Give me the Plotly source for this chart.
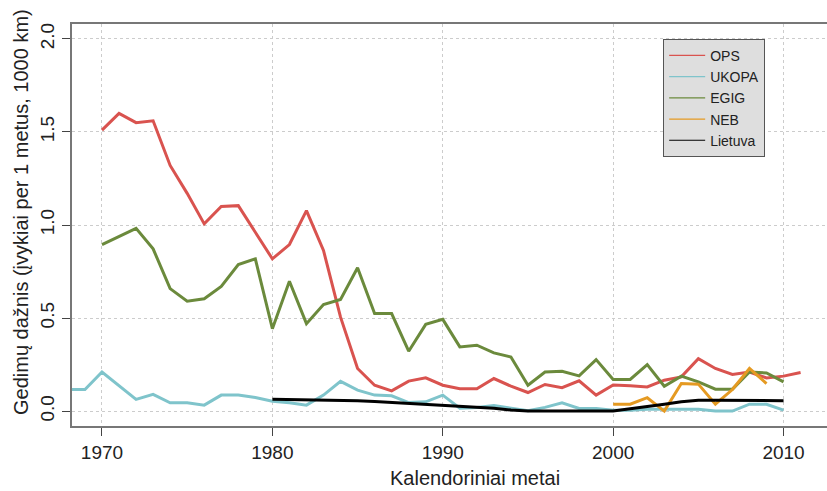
import plotly.graph_objects as go

# ---- data ----
ops_years = list(range(1970, 2012))
ops_vals = [1.51, 1.60, 1.55, 1.56, 1.32, 1.17, 1.006, 1.10, 1.104, 0.96,
            0.818, 0.895, 1.077, 0.863, 0.505, 0.229, 0.139, 0.109, 0.161, 0.179,
            0.139, 0.12, 0.12, 0.175, 0.134, 0.10, 0.143, 0.126, 0.163, 0.086,
            0.140, 0.136, 0.130, 0.166, 0.184, 0.282, 0.229, 0.197, 0.210, 0.178,
            0.188, 0.207]

ukopa_years = list(range(1968, 2011))
ukopa_vals = [0.116, 0.116, 0.21, 0.139, 0.063, 0.09, 0.045, 0.045, 0.032, 0.086,
              0.086, 0.073, 0.053, 0.045, 0.032, 0.086, 0.16, 0.113, 0.086, 0.082,
              0.046, 0.05, 0.086, 0.016, 0.02, 0.03, 0.014, 0.002, 0.02, 0.045,
              0.014, 0.014, 0.005, 0.005, 0.01, 0.01, 0.01, 0.01, 0.0, 0.0,
              0.037, 0.037, 0.005]

egig_years = list(range(1970, 2011))
egig_vals = [0.895, 0.938, 0.982, 0.872, 0.658, 0.591, 0.604, 0.67, 0.788, 0.818,
             0.443, 0.698, 0.47, 0.573, 0.60, 0.77, 0.524, 0.524, 0.322, 0.466,
             0.493, 0.345, 0.354, 0.313, 0.291, 0.139, 0.21, 0.214, 0.189, 0.277,
             0.17, 0.17, 0.25, 0.134, 0.188, 0.157, 0.118, 0.118, 0.21, 0.205,
             0.157]

neb_years = list(range(2000, 2010))
neb_vals = [0.037, 0.037, 0.072, 0.0, 0.148, 0.145, 0.037, 0.116, 0.229, 0.148]

lt_years = list(range(1980, 2011))
lt_vals = [0.064, 0.063, 0.062, 0.060, 0.058, 0.056, 0.052, 0.047, 0.042, 0.038,
           0.034, 0.029, 0.022, 0.015, 0.006, 0.0, 0.0, 0.0, 0.0, 0.0,
           0.0, 0.013, 0.027, 0.037, 0.050, 0.058, 0.059, 0.059, 0.056, 0.056,
           0.056]

x_ticks = [1970, 1980, 1990, 2000, 2010]
y_ticks = [0.0, 0.5, 1.0, 1.5, 2.0]
y_tick_labels = ["0.0", "0.5", "1.0", "1.5", "2.0"]

series = [
    ("OPS", ops_years, ops_vals, "#d9534f"),
    ("UKOPA", ukopa_years, ukopa_vals, "#7fc4cb"),
    ("EGIG", egig_years, egig_vals, "#6b8a3c"),
    ("NEB", neb_years, neb_vals, "#e59a22"),
    ("Lietuva", lt_years, lt_vals, "#000000"),
]

FONT = "Liberation Sans, Arial, sans-serif"

fig = go.Figure()
for name, xs, ys, col in series:
    fig.add_trace(go.Scatter(x=xs, y=ys, mode="lines", name=name,
                             line=dict(color=col, width=3), showlegend=False,
                             cliponaxis=True))
# legend entries with thin lines
for name, xs, ys, col in series:
    fig.add_trace(go.Scatter(x=[None], y=[None], mode="lines", name=name,
                             line=dict(color=col, width=1.2), showlegend=True))

fig.update_layout(
    width=827, height=491,
    margin=dict(l=72, r=0, t=24, b=65),
    paper_bgcolor="white", plot_bgcolor="white",
    font=dict(family=FONT, color="#222222"),
    showlegend=True,
    legend=dict(x=0.783, y=0.963, xanchor="left", yanchor="top",
                bgcolor="#dedede", bordercolor="#555555", borderwidth=1,
                font=dict(family=FONT, size=14, color="#222222"),
                tracegroupgap=0, itemwidth=36),
)
fig.update_xaxes(range=[1968.24, 2012.55], tickvals=x_ticks,
                 ticktext=[str(v) for v in x_ticks], automargin=False,
                 showgrid=True, gridcolor="#cccccc", griddash="dot", gridwidth=1,
                 zeroline=False, showline=True, linecolor="#777777", linewidth=2,
                 mirror=True, ticks="outside", ticklen=8, tickcolor="#444444",
                 tickfont=dict(family=FONT, size=19, color="#222222"))
fig.update_yaxes(range=[-0.08, 2.08], tickvals=y_ticks, ticktext=y_tick_labels,
                 automargin=False,
                 showgrid=True, gridcolor="#cccccc", griddash="dot", gridwidth=1,
                 zeroline=False, showline=True, linecolor="#777777", linewidth=2,
                 ticks="outside", ticklen=8, tickcolor="#444444", tickangle=-90,
                 tickfont=dict(family=FONT, size=19, color="#222222"))

fig.add_annotation(text="Kalendoriniai metai", xref="paper", yref="paper",
                   x=(475 - 72) / 755, y=-(478 - 426) / 402, xanchor="center",
                   yanchor="middle", showarrow=False,
                   font=dict(family=FONT, size=20, color="#222222"))
fig.add_annotation(text="Gedimų dažnis (įvykiai per 1 metus, 1000 km)",
                   xref="paper", yref="paper", x=-(72 - 21) / 755,
                   y=(426 - 212) / 402, xanchor="center", yanchor="middle",
                   textangle=-90, showarrow=False,
                   font=dict(family=FONT, size=20, color="#222222"))

fig.write_html("out.html", config={"displayModeBar": False},
               post_script="document.body.style.margin='0';document.body.style.overflow='hidden';")
